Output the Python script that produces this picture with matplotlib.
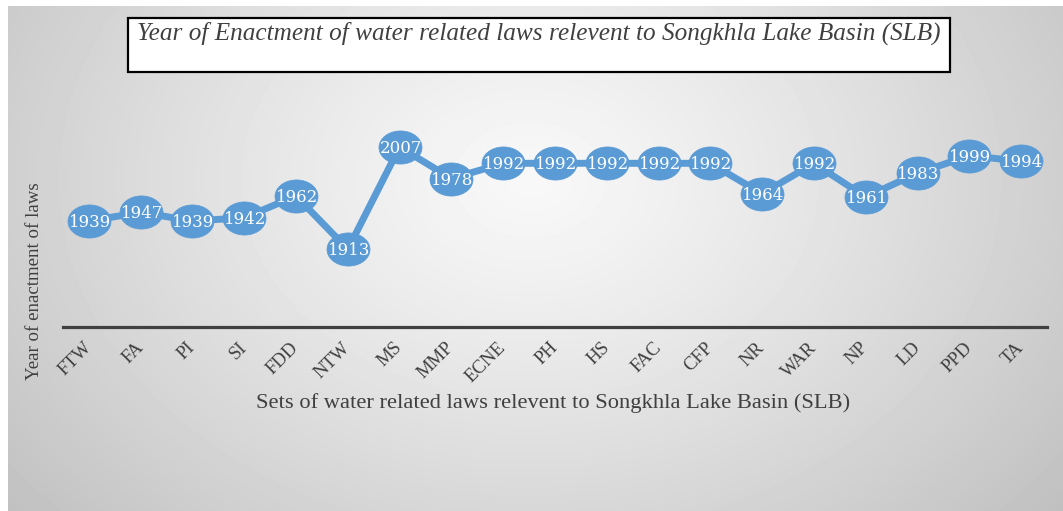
import numpy as np
import matplotlib
matplotlib.use('Agg')
import matplotlib.pyplot as plt
from matplotlib.path import Path
from matplotlib.patches import Rectangle

categories = ['FTW', 'FA', 'PI', 'SI', 'FDD', 'NTW', 'MS', 'MMP', 'ECNE', 'PH',
              'HS', 'FAC', 'CFP', 'NR', 'WAR', 'NP', 'LD', 'PPD', 'TA']
years = [1939, 1947, 1939, 1942, 1962, 1913, 2007, 1978, 1992, 1992,
         1992, 1992, 1992, 1964, 1992, 1961, 1983, 1999, 1994]

title = 'Year of Enactment of water related laws relevent to Songkhla Lake Basin (SLB)'
xlabel = 'Sets of water related laws relevent to Songkhla Lake Basin (SLB)'
ylabel = 'Year of enactment of laws'

W, H = 1063, 511
fig = plt.figure(figsize=(W / 100, H / 100), dpi=100)
fig.patch.set_facecolor('white')

# background panel with radial gradient
bg = fig.add_axes([0, 0, 1, 1])
bg.axis('off')
gx = np.arange(8, W) + 0.5
gy = np.arange(6, H) + 0.5
XX, YY = np.meshgrid(gx, gy)
d = np.sqrt(((XX - 530) / 580) ** 2 + ((YY - 180) / 440) ** 2)
val = np.clip(248 - 46 * d ** 1.2, 150, 255) / 255.0
bg.imshow(val, cmap='gray', vmin=0, vmax=1, extent=(8, W, H, 6),
          origin='upper', aspect='auto', interpolation='bilinear', zorder=0)
bg.set_xlim(0, W)
bg.set_ylim(H, 0)

# title box
bg.add_patch(Rectangle((128, 18), 822, 54, facecolor='white', edgecolor='black',
                       lw=1.6, zorder=2))
bg.text(137, 33, title, ha='left', va='center', fontsize=18.2, style='italic',
        family='Liberation Serif', color='#404040', zorder=3)
bg.text(553, 403, xlabel, ha='center', va='center', fontsize=16.2,
        family='Liberation Serif', color='#404040', zorder=3)
bg.text(35, 281, ylabel, ha='center', va='center', rotation=90, fontsize=13.6,
        family='Liberation Serif', color='#404040', zorder=3)

# main plot
ax = fig.add_axes([63 / W, 1 - 327 / H, 984 / W, 207 / H])
ax.set_facecolor('none')
for s in ['top', 'right', 'left']:
    ax.spines[s].set_visible(False)
ax.spines['bottom'].set_color('#404040')
ax.spines['bottom'].set_linewidth(2.3)
ax.set_xlim(-0.5, len(categories) - 0.5)
ax.set_ylim(1841.6, 2031.8)
ax.set_yticks([])

x = np.arange(len(categories))
t = np.linspace(0, 2 * np.pi, 72)
ellipse = Path(np.column_stack([np.cos(t), 0.77 * np.sin(t)]), closed=True)
blue = '#5b9bd5'
ax.plot(x, years, color=blue, lw=5, marker=ellipse, ms=31, mec=blue, mew=0.5,
        mfc=blue, zorder=3, clip_on=False, solid_joinstyle='round')
for xi, yi in zip(x, years):
    ax.text(xi + 0.02, yi - 1.5, str(yi), color='white', fontsize=12, family='DejaVu Serif',
            ha='center', va='center', zorder=4, clip_on=False)

ax.set_xticks(x)
ax.set_xticklabels(categories, rotation=45, ha='right', va='center',
                   rotation_mode='anchor', fontsize=13.5, family='Liberation Serif',
                   color='#404040')
ax.tick_params(axis='x', length=0, pad=13)

fig.savefig('out.png', dpi=100)
